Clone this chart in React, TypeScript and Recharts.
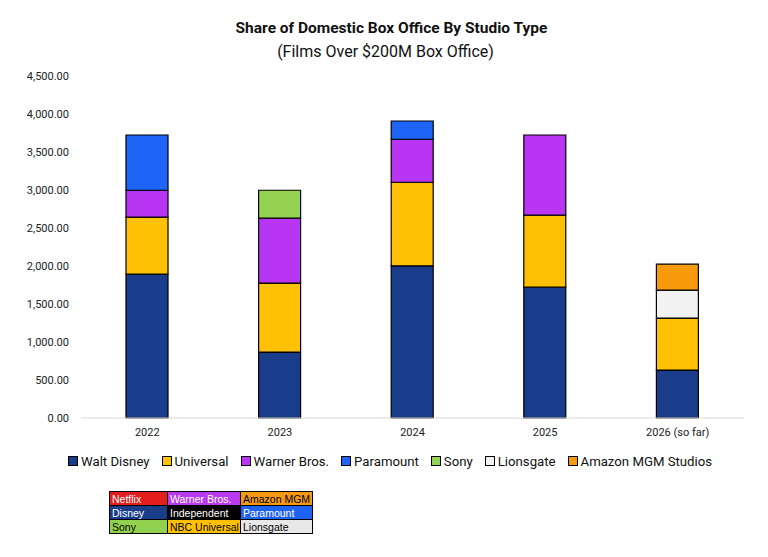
import React from 'react';
import { BarChart, Bar, XAxis, YAxis } from 'recharts';

const years = ['2022', '2023', '2024', '2025', '2026 (so far)'];
const waltDisney = [1893, 868, 2002, 1722, 631];
const universal = [749, 907, 1100, 947, 684];
const warnerBros = [355, 854, 566, 1055, 0];
const paramount = [727, 0, 240, 0, 0];
const sony = [0, 368, 0, 0, 0];
const lionsgate = [0, 0, 0, 0, 368];
const amazonMgm = [0, 0, 0, 0, 341];
const yTicks = [0, 500, 1000, 1500, 2000, 2500, 3000, 3500, 4000, 4500];

const seriesNames = ['Walt Disney', 'Universal', 'Warner Bros.', 'Paramount', 'Sony', 'Lionsgate', 'Amazon MGM Studios'];
const seriesKeys = ['disney', 'universal', 'warner', 'paramount', 'sony', 'lionsgate', 'amazon'];
const seriesColors = ['#193d8a', '#ffc006', '#b835f4', '#1e65f7', '#95d251', '#f2f2f2', '#f79a0c'];
const seriesValues = [waltDisney, universal, warnerBros, paramount, sony, lionsgate, amazonMgm];

const tableRows = [
  ['Netflix', 'Warner Bros.', 'Amazon MGM'],
  ['Disney', 'Independent', 'Paramount'],
  ['Sony', 'NBC Universal', 'Lionsgate'],
];
const tableBg = [
  ['#e41e1c', '#b93bef', '#f59a10'],
  ['#1a3d8a', '#000000', '#1f63f5'],
  ['#92d050', '#ffc000', '#e8e8e8'],
];
const tableFg = [
  ['#ffffff', '#ffffff', '#000000'],
  ['#ffffff', '#ffffff', '#ffffff'],
  ['#000000', '#000000', '#000000'],
];
const tableColWidths = [58, 73, 72];

const data = years.map((y, i) => {
  const row: Record<string, any> = { year: y };
  seriesKeys.forEach((k, j) => {
    row[k] = seriesValues[j][i];
  });
  return row;
});

const fmt = (v: number) =>
  v.toLocaleString('en-US', { minimumFractionDigits: 2, maximumFractionDigits: 2 });

export default function App() {
  return (
    <div style={{ position: 'absolute', left: 0, top: 0, width: 768, height: 557, background: '#fff', fontFamily: 'Roboto, sans-serif' }}>
      <div style={{ position: 'absolute', top: 18, left: 0, width: 783, textAlign: 'center', fontSize: 15.5, fontWeight: 700, color: '#111', lineHeight: '20px' }}>
        Share of Domestic Box Office By Studio Type
      </div>
      <div style={{ position: 'absolute', top: 42, left: 0, width: 771, textAlign: 'center', fontSize: 16, color: '#111', lineHeight: '20px' }}>
        (Films Over $200M Box Office)
      </div>
      <div style={{ position: 'absolute', top: 0, left: 0 }}>
        <BarChart width={768} height={557} data={data} margin={{ top: 76, right: 24, bottom: 109, left: 0 }} barSize={42}>
          <XAxis
            dataKey="year"
            height={30}
            axisLine={{ stroke: '#d9d9d9' }}
            tickLine={false}
            tickSize={6}
            tickMargin={4}
            tick={{ fontSize: 11, fill: '#222', fontFamily: 'Roboto' }}
            interval={0}
          />
          <YAxis
            width={81}
            domain={[0, 4500]}
            ticks={yTicks}
            tickFormatter={fmt}
            axisLine={false}
            tickLine={false}
            tickSize={6}
            tickMargin={6}
            tick={{ fontSize: 11, fill: '#222', fontFamily: 'Roboto' }}
          />
          {seriesKeys.map((k, j) => (
            <Bar
              key={k}
              dataKey={k}
              name={seriesNames[j]}
              stackId="a"
              fill={seriesColors[j]}
              stroke="#000"
              strokeWidth={1.2}
              isAnimationActive={false}
            />
          ))}
        </BarChart>
      </div>
      <div style={{ position: 'absolute', top: 452, left: 68, display: 'flex', alignItems: 'center', height: 18, fontSize: 13.2, color: '#111', whiteSpace: 'nowrap' }}>
        {seriesNames.map((n, j) => (
          <div key={n} style={{ display: 'flex', alignItems: 'center', marginRight: 12 }}>
            <span style={{ display: 'inline-block', width: 8, height: 8, background: seriesColors[j], border: '1px solid #000', marginRight: 3 }} />
            <span>{n}</span>
          </div>
        ))}
      </div>
      <table style={{ position: 'absolute', top: 491, left: 109, width: 203, tableLayout: 'fixed', borderCollapse: 'collapse', fontFamily: '"Liberation Sans", Arial, sans-serif', fontSize: 10.5 }}>
        <colgroup>
          {tableColWidths.map((w, j) => (
            <col key={j} style={{ width: w }} />
          ))}
        </colgroup>
        <tbody>
          {tableRows.map((r, i) => (
            <tr key={i} style={{ height: 14 }}>
              {r.map((c, j) => (
                <td
                  key={j}
                  style={{
                    background: tableBg[i][j],
                    color: tableFg[i][j],
                    border: '1px solid #000',
                    padding: '0 1px 0 2px',
                    lineHeight: '12px',
                    whiteSpace: 'nowrap',
                    overflow: 'hidden',
                  }}
                >
                  {c}
                </td>
              ))}
            </tr>
          ))}
        </tbody>
      </table>
    </div>
  );
}
